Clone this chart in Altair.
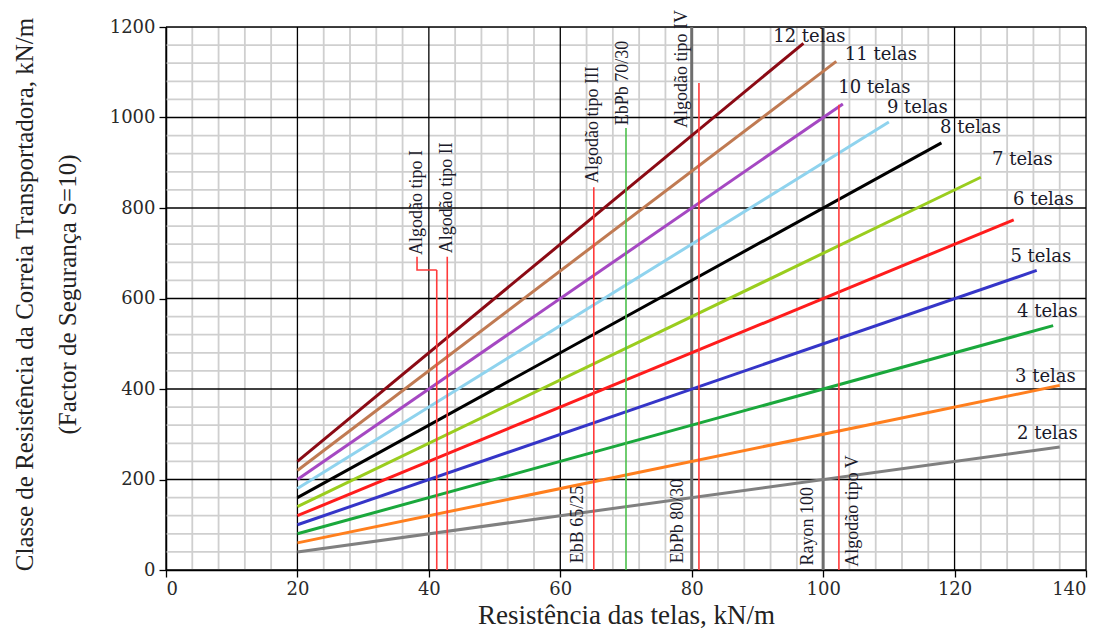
import altair as alt
import pandas as pd

# --- data ---
telas = [2, 3, 4, 5, 6, 7, 8, 9, 10, 11, 12]
start_x = [20] * 11
start_y = [40, 60, 80, 100, 120, 140, 160, 180, 200, 220, 240]
end_x = [136, 136, 135, 132.5, 129, 124, 118, 110, 103, 102, 97]
end_y = [272, 408, 540, 662, 774, 868, 944, 990, 1030, 1124, 1164]
colors = ["#808080", "#ff7f1e", "#1aa83c", "#3535c8", "#ff1c1c", "#9acd1e",
          "#000000", "#8fd3ee", "#a548c2", "#c07a52", "#8b0a14"]

label_x = [129.5, 129.2, 129.5, 128.5, 128.9, 125.7, 117.8, 109.7, 102.3, 103.3, 92.4]
label_y = [300, 427, 570, 692, 818, 906, 977, 1021, 1065, 1138, 1178]

# vertical reference lines
ref_names = ["Algodão tipo I", "Algodão tipo II", "Algodão tipo III", "EbPb 70/30",
             "Algodão tipo IV", "Algodão tipo V", "EbPb 80/30", "Rayon 100"]
ref_x = [41.2, 42.8, 65.1, 70.0, 81.1, 102.4, 80, 100]
ref_top = [663, 692, 846, 977, 1076, 1028, 1200, 1200]
ref_kind = ["red", "red", "red", "green", "red", "red", "gray", "gray"]

# step connector for Algodão tipo I
step_x = [41.2, 38.2, 38.2]
step_y = [663, 663, 692]

# rotated labels
vlab_text = ["Algodão tipo I", "Algodão tipo II", "Algodão tipo III", "EbPb 70/30",
             "Algodão tipo IV", "EbB 65/25", "EbPb 80/30", "Rayon 100", "Algodão tipo V"]
vlab_x = [38.2, 42.8, 65.0, 69.6, 78.5, 62.7, 77.9, 97.7, 104.6]
vlab_y = [696, 700, 855, 983, 977, 15, 15, 10, 7]

# axis ticks and grid
x_major = list(range(0, 141, 20))
y_major = list(range(0, 1201, 200))
x_minor = [v for v in range(0, 141, 4) if v % 20 != 0]
y_minor = [v for v in range(0, 1201, 40) if v % 200 != 0]

y_title_lines = ["Classe de Resistência da Correia Transportadora, kN/m",
                 "(Factor de Segurança S=10)"]
x_title = "Resistência das telas, kN/m"

SERIF = "Liberation Serif"
WIDE = "DejaVu Serif"
W, H = 920, 543

# --- tables ---
rows = []
for n, sx, sy, ex, ey in zip(telas, start_x, start_y, end_x, end_y):
    rows.append({"s": f"{n} telas", "x": sx, "y": sy, "o": 0})
    rows.append({"s": f"{n} telas", "x": ex, "y": ey, "o": 1})
lines_df = pd.DataFrame(rows)
lab_df = pd.DataFrame({"t": [f"{n} telas" for n in telas], "x": label_x, "y": label_y})
ref_df = pd.DataFrame({"name": ref_names, "x": ref_x, "top": ref_top, "kind": ref_kind,
                       "bottom": [0] * len(ref_x)})
step_df = pd.DataFrame({"x": step_x, "y": step_y, "o": list(range(len(step_x)))})
vlab_df = pd.DataFrame({"t": vlab_text, "x": vlab_x, "y": vlab_y})

xscale = alt.Scale(domain=[0, 140], nice=False)
yscale = alt.Scale(domain=[0, 1200], nice=False)

xaxis = alt.Axis(
    values=x_major, grid=False, labelOverlap=False, format="d",
    tickSize=7, tickColor="#000", tickWidth=1.3, domainColor="#000", domainWidth=1.5,
    labelFont=WIDE, labelFontSize=18, labelColor="#2a2a2a", labelPadding=3,
    title=x_title, titleFont=SERIF, titleFontSize=27,
    titleFontWeight="normal", titleColor="#222", titlePadding=4,
)
yaxis = alt.Axis(
    values=y_major, grid=False, labelOverlap=False, format="d",
    tickSize=7, tickColor="#000", tickWidth=1.3, domainColor="#000", domainWidth=1.5,
    labelFont=WIDE, labelFontSize=18, labelColor="#2a2a2a", labelPadding=4,
    title=None,
)

X = lambda f: alt.X(f, scale=xscale, axis=xaxis)
Y = lambda f: alt.Y(f, scale=yscale, axis=yaxis)

gx_minor = alt.Chart(pd.DataFrame({"v": x_minor})).mark_rule(color="#cfcfcf", strokeWidth=1.8).encode(x=X("v:Q"))
gy_minor = alt.Chart(pd.DataFrame({"v": y_minor})).mark_rule(color="#cfcfcf", strokeWidth=1.8).encode(y=Y("v:Q"))
gx_major = alt.Chart(pd.DataFrame({"v": x_major})).mark_rule(color="#000", strokeWidth=1.3).encode(x=X("v:Q"))
gy_major = alt.Chart(pd.DataFrame({"v": y_major})).mark_rule(color="#000", strokeWidth=1.3).encode(y=Y("v:Q"))

gray_refs = alt.Chart(ref_df).transform_filter("datum.kind === 'gray'").mark_rule(
    color="#6e6e6e", strokeWidth=3
).encode(x=X("x:Q"), y=Y("bottom:Q"), y2="top:Q")

series = alt.Chart(lines_df).mark_line(strokeWidth=3).encode(
    x=X("x:Q"),
    y=Y("y:Q"),
    color=alt.Color("s:N", scale=alt.Scale(domain=[f"{n} telas" for n in telas], range=colors), legend=None),
    order="o:Q",
    detail="s:N",
)

color_refs = alt.Chart(ref_df).transform_filter("datum.kind !== 'gray'").mark_rule(
    strokeWidth=1.6
).encode(
    x=X("x:Q"), y=Y("bottom:Q"), y2="top:Q",
    color=alt.Color("kind:N", scale=alt.Scale(domain=["red", "green"], range=["#ff3b3b", "#4cc04c"]), legend=None),
)

step = alt.Chart(step_df).mark_line(color="#ff3b3b", strokeWidth=1.6).encode(
    x=X("x:Q"), y=Y("y:Q"), order="o:Q"
)

tela_labels = alt.Chart(lab_df).mark_text(
    align="left", baseline="middle", font=WIDE, fontSize=18, color="#1a1a2a"
).encode(x=X("x:Q"), y=Y("y:Q"), text="t:N")

vlabels = alt.Chart(vlab_df).mark_text(
    align="left", baseline="middle", angle=270, font=SERIF, fontSize=18, color="#1a1a2a"
).encode(x=X("x:Q"), y=Y("y:Q"), text="t:N")

ytitle_layers = []
for line, px in zip(y_title_lines, [-141, -98]):
    ytitle_layers.append(
        alt.Chart(pd.DataFrame({"t": [line]})).mark_text(
            align="center", baseline="middle", angle=270, font=SERIF, fontSize=25, color="#222"
        ).encode(x=alt.value(px), y=alt.value(H / 2 - 4), text="t:N")
    )

chart = alt.layer(
    gx_minor, gy_minor, gx_major, gy_major, gray_refs, series, color_refs, step,
    tela_labels, vlabels, *ytitle_layers
).resolve_scale(color="independent").properties(
    width=W, height=H,
    autosize=alt.AutoSizeParams(type="none"),
    padding={"left": 166, "top": 27, "right": 24, "bottom": 64},
).configure_view(stroke="#000", strokeWidth=1.5).configure(background="white")

chart.save("out.html", embed_options={"renderer": "svg", "actions": False})
